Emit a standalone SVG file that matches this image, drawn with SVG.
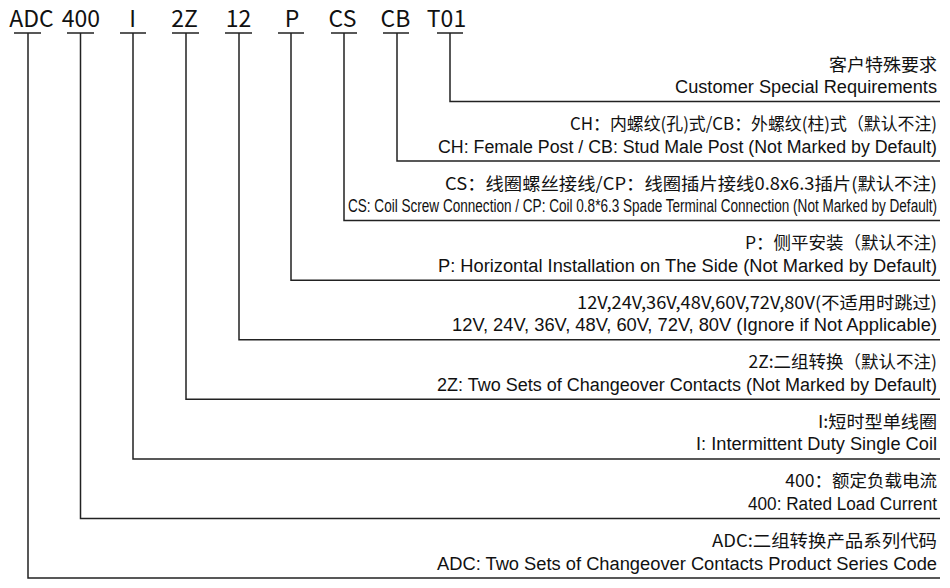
<svg xmlns="http://www.w3.org/2000/svg" width="950" height="588" viewBox="0 0 950 588">
<style>
.code{font-family:"Noto Sans CJK SC","Noto Sans",sans-serif;font-size:23px;fill:#111;text-anchor:middle}
.cn{font-family:"Noto Sans CJK SC","Noto Sans",sans-serif;font-size:17.5px;fill:#111;text-anchor:end}
.en{font-family:"Liberation Sans",Arial,sans-serif;font-size:18px;fill:#111;text-anchor:end}
.ln{fill:none;stroke:#222;stroke-width:1.5}
</style>
<rect width="950" height="588" fill="#fff"/>
<g id="codes">
<g id="code-ADC"><text class="code" x="31.5" y="27">ADC</text></g>
<g id="code-400"><text class="code" x="81" y="27">400</text></g>
<g id="code-I"><text class="code" x="132.5" y="27">I</text></g>
<g id="code-2Z"><text class="code" x="184.5" y="27">2Z</text></g>
<g id="code-12"><text class="code" x="238.5" y="27">12</text></g>
<g id="code-P"><text class="code" x="292" y="27">P</text></g>
<g id="code-CS"><text class="code" x="342.5" y="27">CS</text></g>
<g id="code-CB"><text class="code" x="395.5" y="27">CB</text></g>
<g id="code-T01"><text class="code" x="446.5" y="27">T01</text></g>
</g>
<g id="connectors">
<path class="ln" d="M14 33H41M28 33V578H940"/>
<path class="ln" d="M67 33H94M80.5 33V518.4H940"/>
<path class="ln" d="M120 33H146M133 33V458.9H940"/>
<path class="ln" d="M172 33H199M186 33V399.3H940"/>
<path class="ln" d="M225 33H252M239 33V339.7H940"/>
<path class="ln" d="M278 33H304M291 33V280.2H940"/>
<path class="ln" d="M331 33H357M344 33V220.6H940"/>
<path class="ln" d="M383 33H409M397 33V161H940"/>
<path class="ln" d="M437 33H463M450 33V101.5H940"/>
</g>
<g id="desc-T01">
<text class="cn" x="937" y="70.5" textLength="108" lengthAdjust="spacingAndGlyphs">客户特殊要求</text>
<text class="en" x="937" y="93" textLength="262" lengthAdjust="spacingAndGlyphs">Customer Special Requirements</text>
</g>
<g id="desc-CB">
<text class="cn" x="937" y="130" textLength="367" lengthAdjust="spacingAndGlyphs">CH：内螺纹(孔)式/CB：外螺纹(柱)式（默认不注)</text>
<text class="en" x="937" y="152.5" textLength="499" lengthAdjust="spacingAndGlyphs">CH: Female Post / CB: Stud Male Post (Not Marked by Default)</text>
</g>
<g id="desc-CS">
<text class="cn" x="937" y="189.5" textLength="492" lengthAdjust="spacingAndGlyphs">CS：线圈螺丝接线/CP：线圈插片接线0.8x6.3插片(默认不注)</text>
<text class="en" x="937" y="212" style="font-size:17.5px" textLength="589" lengthAdjust="spacingAndGlyphs">CS: Coil Screw Connection / CP: Coil 0.8*6.3 Spade Terminal Connection (Not Marked by Default)</text>
</g>
<g id="desc-P">
<text class="cn" x="937" y="249">P：侧平安装（默认不注)</text>
<text class="en" x="937" y="271.5" textLength="499" lengthAdjust="spacingAndGlyphs">P: Horizontal Installation on The Side (Not Marked by Default)</text>
</g>
<g id="desc-12">
<text class="cn" x="937" y="308.5" textLength="360" lengthAdjust="spacingAndGlyphs">12V,24V,36V,48V,60V,72V,80V(不适用时跳过)</text>
<text class="en" x="937" y="331" textLength="485" lengthAdjust="spacingAndGlyphs">12V, 24V, 36V, 48V, 60V, 72V, 80V (Ignore if Not Applicable)</text>
</g>
<g id="desc-2Z">
<text class="cn" x="937" y="368">2Z:二组转换（默认不注)</text>
<text class="en" x="937" y="390.5" textLength="500" lengthAdjust="spacingAndGlyphs">2Z: Two Sets of Changeover Contacts (Not Marked by Default)</text>
</g>
<g id="desc-I">
<text class="cn" x="937" y="427.5" textLength="119" lengthAdjust="spacingAndGlyphs">I:短时型单线圈</text>
<text class="en" x="937" y="450" textLength="241" lengthAdjust="spacingAndGlyphs">I: Intermittent Duty Single Coil</text>
</g>
<g id="desc-400">
<text class="cn" x="937" y="487">400：额定负载电流</text>
<text class="en" x="937" y="509.5" textLength="189" lengthAdjust="spacingAndGlyphs">400: Rated Load Current</text>
</g>
<g id="desc-ADC">
<text class="cn" x="937" y="547" textLength="225" lengthAdjust="spacingAndGlyphs">ADC:二组转换产品系列代码</text>
<text class="en" x="937" y="569.5" textLength="500" lengthAdjust="spacingAndGlyphs">ADC: Two Sets of Changeover Contacts Product Series Code</text>
</g>
</svg>
